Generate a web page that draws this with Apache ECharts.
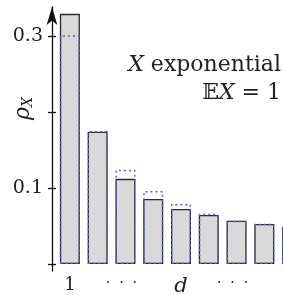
<!DOCTYPE html>
<html>
<head>
<meta charset="utf-8">
<script src="https://cdn.jsdelivr.net/npm/echarts@6/dist/echarts.min.js"></script>
<style>
  html, body { margin: 0; padding: 0; background: #fff; }
  #chart { width: 283px; height: 295px; }
</style>
</head>
<body>
<div id="chart"></div>
<script>
// categories along d (only some are labelled)
const categories = ['1', '', 'dots', '', 'd', '', 'dots', '', ''];
// gray bars: rho_X
const rhoValues = [0.329, 0.174, 0.112, 0.0855, 0.0724, 0.0645, 0.057, 0.0526, 0.0487];
// blue dotted outline: comparison values
const refValues = [0.301, 0.175, 0.124, 0.096, 0.079, 0.066, 0.057, 0.053, 0.0487];
const tickValues = [0, 0.1, 0.2, 0.3];
const labelValues = [0.1, 0.3];

const serif = '"DejaVu Serif", "Liberation Serif", serif';
const chart = echarts.init(document.getElementById('chart'));

const yBase = {
  type: 'value',
  position: 'left',
  offset: 4,
  min: -0.0092,
  max: 0.338,
  splitLine: { show: false }
};

chart.setOption({
  animation: false,
  grid: { left: 56, top: 7, width: 250, bottom: 24, containLabel: false, outerBoundsMode: 'none' },
  xAxis: {
    type: 'category',
    data: categories,
    axisLine: { show: false },
    axisTick: { show: false },
    axisLabel: {
      interval: 0,
      margin: 5,
      fontFamily: serif,
      fontSize: 18,
      color: '#222',
      formatter(v) {
        if (v === 'd') return '{i|d}';
        if (v === 'dots') return '{dot|·  ·  ·}';
        return v;
      },
      rich: {
        i: { fontFamily: serif, fontStyle: 'italic', fontSize: 21, color: '#222' },
        dot: { fontFamily: serif, fontSize: 14, color: '#222', padding: [0, 8, 0, 0] }
      }
    }
  },
  yAxis: [
    Object.assign({}, yBase, {
      axisLine: { show: true, symbol: ['none', 'arrow'], symbolSize: [8, 18], lineStyle: { color: '#111', width: 1.3 } },
      axisTick: { show: true, length: 4, lineStyle: { color: '#111', width: 1.3 }, customValues: tickValues },
      axisLabel: {
        margin: 9,
        fontFamily: serif,
        fontSize: 19,
        color: '#222',
        customValues: labelValues,
        formatter: v => v.toFixed(1)
      }
    }),
    Object.assign({}, yBase, {
      axisLine: { show: false },
      axisTick: { show: true, inside: true, length: 4, lineStyle: { color: '#111', width: 1.3 }, customValues: tickValues },
      axisLabel: { show: false }
    })
  ],
  series: [
    {
      type: 'bar',
      data: rhoValues,
      barWidth: 20,
      itemStyle: { color: '#d9d9d9', borderColor: '#2b2b2b', borderWidth: 1.3 }
    },
    {
      type: 'bar',
      data: refValues,
      barWidth: 20,
      barGap: '-100%',
      itemStyle: {
        color: 'rgba(0,0,0,0)',
        borderColor: '#5466c4',
        borderWidth: 1.5,
        borderType: [2, 3]
      }
    }
  ],
  graphic: [
    {
      type: 'text',
      right: 2,
      top: 54,
      style: {
        text: '{i|X} exponential',
        font: '22px ' + serif,
        fill: '#222',
        rich: { i: { fontStyle: 'italic', fontFamily: serif, fontSize: 22, fill: '#222' } }
      }
    },
    {
      type: 'text',
      right: 2,
      top: 82,
      style: {
        text: '𝔼{i|X} = 1',
        font: '22px ' + serif,
        fill: '#222',
        rich: { i: { fontStyle: 'italic', fontFamily: serif, fontSize: 22, fill: '#222' } }
      }
    },
    {
      type: 'text',
      x: 11,
      y: 120,
      rotation: Math.PI / 2,
      style: {
        text: '{r|ρ}{s|X}',
        rich: {
          r: { fontStyle: 'italic', fontFamily: serif, fontSize: 22, fill: '#222' },
          s: { fontStyle: 'italic', fontFamily: serif, fontSize: 14, fill: '#222', padding: [10, 0, 0, 0] }
        }
      }
    }
  ]
});
</script>
</body>
</html>
